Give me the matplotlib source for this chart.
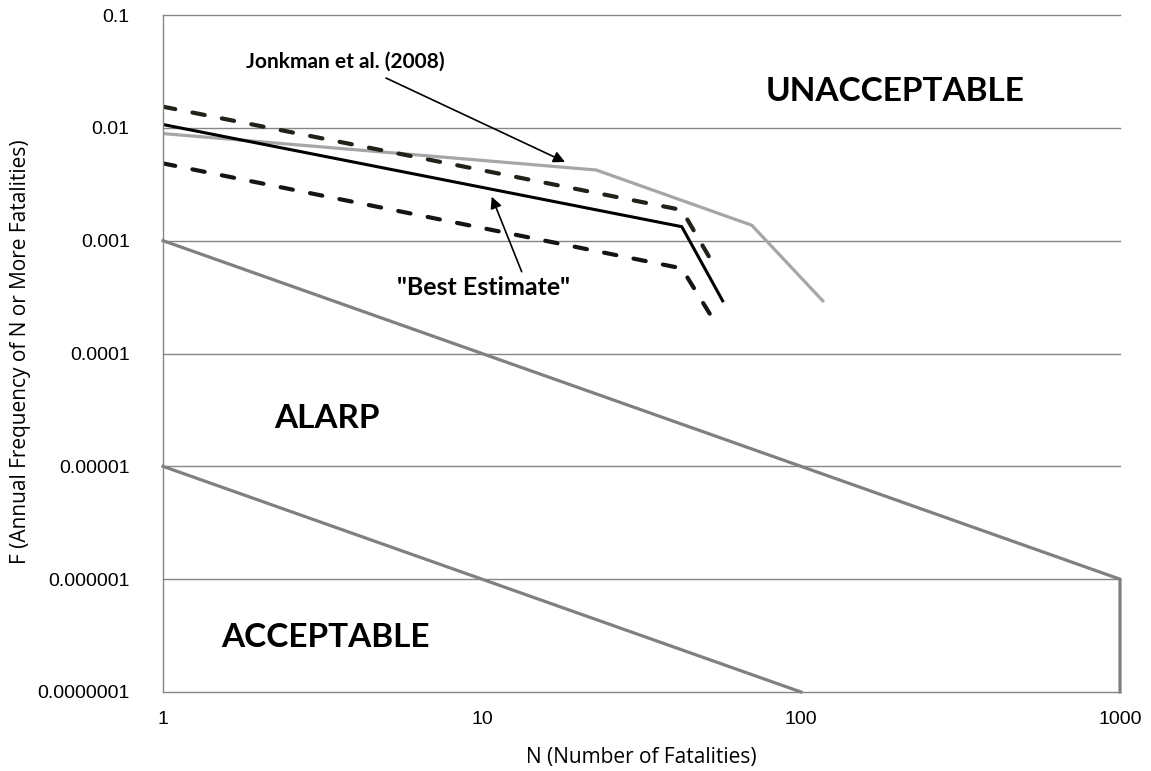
import numpy as np
import matplotlib.pyplot as plt

# criterion lines (slope -1 on log-log)
upper_n = [1, 1000, 1000]
upper_f = [1e-3, 1e-6, 1e-7]
lower_n = [1, 100]
lower_f = [1e-5, 1e-7]

# Jonkman et al. (2008) curve
jonk_n = [1, 22.8, 70.1, 117]
jonk_f = [0.0089, 0.00423, 0.00137, 0.000293]

# best estimate and bounds
best_n = [1, 42.3, 56.8]
best_f = [0.0107, 0.00133, 0.000293]
hi_n = [1, 42.3, 54.1]
hi_f = [0.0154, 0.00187, 0.000567]
lo_n = [1, 42.3, 54.4]
lo_f = [0.00484, 0.000568, 0.000179]

x_ticks = [1, 10, 100, 1000]
x_labels = ["1", "10", "100", "1000"]
y_ticks = [1e-7, 1e-6, 1e-5, 1e-4, 1e-3, 1e-2, 1e-1]
y_labels = ["0.0000001", "0.000001", "0.00001", "0.0001", "0.001", "0.01", "0.1"]

grid_col = "#868686"
crit_col = "#808080"

fig = plt.figure(figsize=(11.51, 7.71), dpi=100)
ax = fig.add_axes([163 / 1151, 1 - 692 / 771, 957 / 1151, 677 / 771])

ax.set_xscale("log")
ax.set_yscale("log")
ax.set_xlim(1, 1000)
ax.set_ylim(1e-7, 0.1)

for y in y_ticks[1:]:
    ax.axhline(y, color=grid_col, lw=1.0, zorder=0, clip_on=False)

ax.plot(upper_n, upper_f, color=crit_col, lw=2.3, clip_on=False, solid_joinstyle="miter")
ax.plot(lower_n, lower_f, color=crit_col, lw=2.3, clip_on=False)
ax.plot(jonk_n, jonk_f, color="#A6A6A6", lw=2.3)
ax.plot(hi_n, hi_f, color="#22221a", lw=3, linestyle=(0, (3.0, 4.2)), dash_capstyle="round")
ax.plot(lo_n, lo_f, color="#141414", lw=3, linestyle=(0, (3.0, 4.2)), dash_capstyle="round")
ax.plot(best_n, best_f, color="black", lw=2.2)

ax.set_xticks(x_ticks)
ax.set_xticklabels(x_labels)
ax.set_yticks(y_ticks)
ax.set_yticklabels(y_labels)
ax.minorticks_off()
ax.tick_params(axis="both", length=0, labelsize=14)
ax.tick_params(axis="y", pad=24)
ax.tick_params(axis="x", pad=14)
for lab in ax.get_xticklabels() + ax.get_yticklabels():
    lab.set_family("Liberation Sans")

for s in ["top", "right"]:
    ax.spines[s].set_visible(False)
for s in ["left", "bottom"]:
    ax.spines[s].set_color(grid_col)
    ax.spines[s].set_linewidth(1.0)

# axis titles placed by pixel position
fig.text(641 / 1151, 1 - 757 / 771, "N (Number of Fatalities)", family="Open Sans",
         fontsize=15, ha="center", va="center")
fig.text(21 / 1151, 1 - 352 / 771, "F (Annual Frequency of N or More Fatalities)",
         family="Open Sans", fontsize=15, rotation=90, ha="center", va="center")

big = dict(family="Lato", weight="bold", fontsize=24, ha="center", va="center", transform=ax.transAxes)
ax.text(0.7654, 0.8863, "UNACCEPTABLE", **big)
ax.text(0.1708, 0.4047, "ALARP", **big)
ax.text(0.1693, 0.0798, "ACCEPTABLE", **big)

arr = dict(arrowstyle="-|>", color="black", lw=1.2, mutation_scale=17, shrinkA=0, shrinkB=0)
ax.text(0.1902, 0.9306, "Jonkman et al. (2008)", transform=ax.transAxes,
        family="Lato", weight="bold", fontsize=15, ha="center", va="center")
ax.annotate("", xy=(0.4201, 0.7829), xytext=(0.2330, 0.9069),
            xycoords="axes fraction", textcoords="axes fraction", arrowprops=arr)
ax.text(0.3354, 0.5968, "\"Best Estimate\"", transform=ax.transAxes,
        family="Lato", weight="bold", fontsize=18, ha="center", va="center")
ax.annotate("", xy=(0.3435, 0.7316), xytext=(0.3748, 0.6208),
            xycoords="axes fraction", textcoords="axes fraction", arrowprops=arr)

fig.savefig("out.png", dpi=100)
